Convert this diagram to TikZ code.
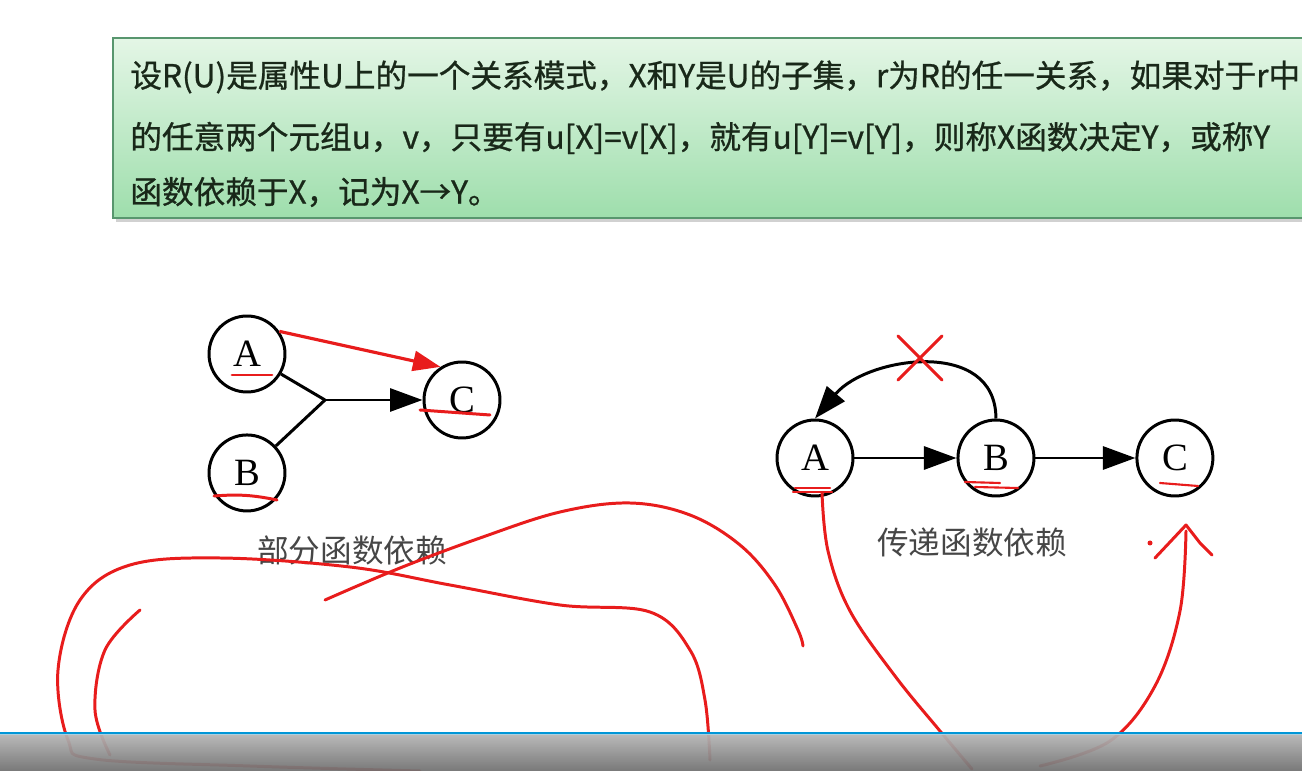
\documentclass[tikz,border=0pt]{standalone}
\usepackage{fontspec}
\setmainfont{Liberation Serif}
\newfontfamily\cjk{Noto Sans CJK SC}
\newfontfamily\cjkheavy{Noto Sans CJK SC}[FakeBold=0.8]
\usetikzlibrary{positioning,arrows.meta}
\definecolor{BoxTop}{RGB}{228,246,230}
\definecolor{BoxBottom}{RGB}{158,222,172}
\definecolor{BoxEdge}{RGB}{88,150,110}
\definecolor{InkRed}{RGB}{232,28,28}
\definecolor{CapGray}{RGB}{70,70,70}
\definecolor{DefText}{RGB}{25,40,25}
\definecolor{BarBlue}{RGB}{0,150,215}

\begin{document}
\begin{tikzpicture}[x=0.02cm, y=0.02cm,
    vert/.style={circle, draw=black, line width=1.7pt, minimum size=1.52cm,
        inner sep=0pt, font=\fontsize{22}{22}\selectfont},
    arr/.style={-{Triangle[length=6.5mm,width=4.6mm]}, line width=1.7pt},
    redarr/.style={-{Triangle[length=5.5mm,width=4mm]}, line width=1.8pt, InkRed},
    ink/.style={InkRed, line width=1.7pt, line cap=round, line join=round},
    deftext/.style={anchor=west, inner sep=0pt, text=DefText,
        font=\cjkheavy\fontsize{18}{18}\selectfont},
    title/.style={font=\cjk\fontsize{18}{18}\selectfont, text=CapGray},
]
\useasboundingbox (0,0) rectangle (1302,771);
\begin{scope}
\clip (0,0) rectangle (1302,771);

% definition box
\fill[black!30, opacity=0.6] (116,549) rectangle (1340,729);
\draw[BoxEdge, line width=1pt, top color=BoxTop, bottom color=BoxBottom]
    (113,553) rectangle (1340,733);
\node[deftext] (l1) at (130,694) {设R(U)是属性U上的一个关系模式，X和Y是U的子集，r为R的任一关系，如果对于r中};
\node[deftext] (l2) at (130,633) {的任意两个元组u，v，只要有u[X]=v[X]，就有u[Y]=v[Y]，则称X函数决定Y，或称Y};
\node[deftext] (l3) at (130,579) {函数依赖于X，记为X→Y。};

% partial dependency
\node[vert] (pa) at (247,417) {A};
\node[vert, below=0.8cm of pa] (pb) {B};
\node[vert] (pc) at (462,371) {C};
\coordinate (jn) at (325,371);
\draw[line width=1.7pt] (pa) -- (jn);
\draw[line width=1.7pt] (pb) -- (jn);
\draw[arr] (jn) -- (pc);
\draw[redarr] (pa.35) -- (pc.123);
\node[title] (ptitle) at (352,221) {部分函数依赖};

% transitive dependency
\node[vert] (ta) at (815,313) {A};
\node[vert, right=2.04cm of ta] (tb) {B};
\node[vert, right=2cm of tb] (tc) {C};
\draw[arr] (ta) -- (tb);
\draw[arr] (tb) -- (tc);
\draw[arr] (tb.north) to[out=90, in=50, looseness=1.15] (ta.north);
\node[title] (ttitle) at (972,229) {传递函数依赖};

% red marks
\draw[ink] (898,435) -- (942,391);
\draw[ink] (942,435) -- (898,391);
\draw[ink] (232,396) -- (272,396);
\draw[ink] (420,361) -- (490,356);
\draw[ink] (214,275) to[bend left=8] (277,271);
\draw[ink, line width=1.2pt] (795,283) -- (830,283);
\draw[ink, line width=1.2pt] (793,279) -- (832,279);
\draw[ink, line width=1.2pt] (965,289) -- (1000,288);
\draw[ink, line width=1.2pt] (975,284) -- (1018,283);
\draw[ink, line width=1.2pt] (1160,288) -- (1198,285);

% freehand strokes
\draw[ink] plot[smooth, tension=0.6] coordinates
    {(822,278) (828,220) (850,160) (895,95) (940,40) (972,2)};
\draw[ink] plot[smooth, tension=0.6] coordinates
    {(1040,5) (1110,30) (1155,85) (1180,160) (1186,240)};
\draw[ink] (1155,213) -- (1186,246) -- (1200,228) -- (1212,216);
\fill[InkRed] (1150,228) circle (2.5);
\draw[ink] plot[smooth, tension=0.6] coordinates
    {(325,171) (400,203) (480,233) (560,259) (630,268) (690,256)
     (740,226) (775,186) (798,141) (803,125)};
\draw[ink] plot[smooth, tension=0.6] coordinates
    {(710,11) (705,71) (690,121) (650,159) (560,166) (450,186) (350,204)
     (220,213) (130,206) (80,171) (58,101) (68,31) (95,12) (250,5) (420,0)};
\draw[ink] plot[smooth, tension=0.6] coordinates
    {(140,161) (105,121) (95,61) (110,16)};

% player bar
\fill[BarBlue] (0,36) rectangle (1302,39);
\fill[top color=black!12, bottom color=black!45, fill opacity=0.75] (0,0) rectangle (1302,36);
\end{scope}
\end{tikzpicture}
\end{document}
